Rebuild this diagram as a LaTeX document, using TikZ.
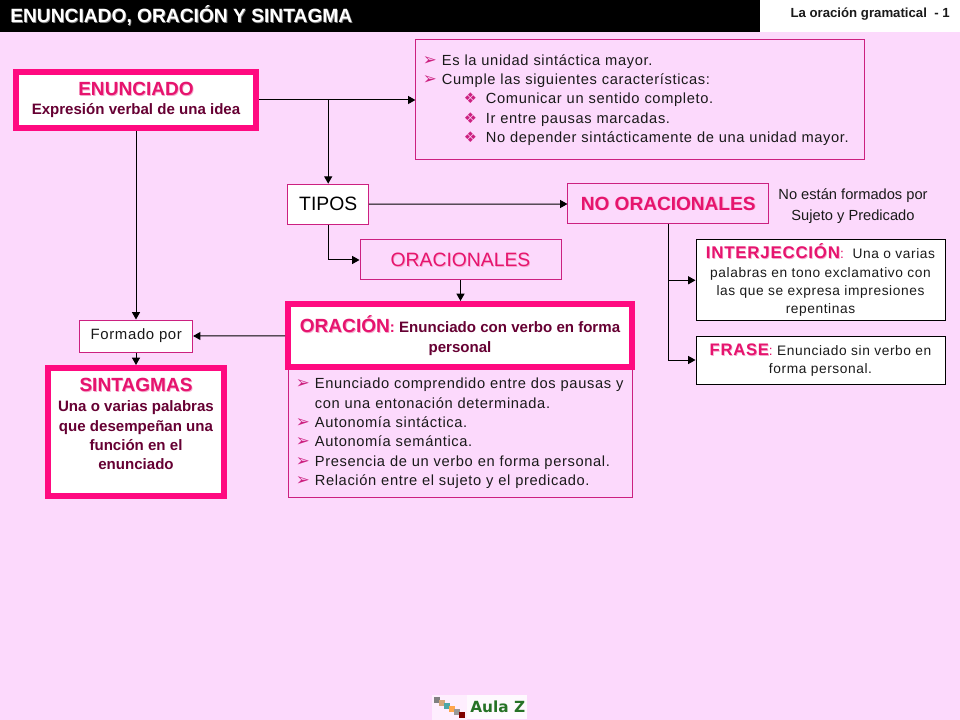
\documentclass[tikz,border=0pt]{standalone}
\usepackage{fontspec}
\setmainfont{Liberation Sans}
\newfontfamily\symfont{DejaVu Sans}
\newfontfamily\esp[LetterSpace=4.3]{Liberation Sans}
\usetikzlibrary{positioning}
\usetikzlibrary{arrows.meta}
\definecolor{fondo}{HTML}{FCD9FC}
\definecolor{rosa}{HTML}{FF0A80}
\definecolor{borde}{HTML}{CC2080}
\definecolor{titulo}{HTML}{E6146E}
\definecolor{vino}{HTML}{660033}
\definecolor{texto}{HTML}{1A1A1A}
\definecolor{sombra}{HTML}{F5A8CC}
\newcommand{\somb}[3]{\leavevmode\rlap{\hspace{.6pt}\raisebox{-.6pt}{\textcolor{#2}{#3}}}\textcolor{#1}{#3}}
\newcommand{\rosado}[1]{\somb{titulo}{sombra}{#1}}
\newcommand{\cabeza}{\fontsize{14.3}{16}\bfseries\selectfont}
\newcommand{\flecha}[1]{\makebox[14.25pt][l]{\smash{\symfont\fontsize{12.5}{12}\bfseries\selectfont\textcolor{borde}{➢}}}#1}
\newcommand{\rombo}[1]{\hspace*{30.75pt}\makebox[16.5pt][l]{\symfont\textcolor{borde}{❖}}#1}
\tikzset{
    fino/.style={draw=borde, line width=.75pt, inner sep=0pt, text=texto},
    grueso/.style={draw=rosa, fill=white, line width=4.5pt, inner sep=0pt, align=center, text=vino},
    negro/.style={draw=black, fill=white, line width=.75pt, inner sep=0pt, align=center, text=texto,
        font=\esp\fontsize{10.3}{13.7}\selectfont},
    flechita/.style={-{Triangle[length=5.5pt,width=6pt]}, line width=.75pt, black},
    lista/.style={font=\esp\fontsize{11}{14.5}\selectfont, align=left},
    cabeza/.style={font=\cabeza, text=titulo},
    cuerpo/.style={font=\fontsize{11.3}{14.5}\bfseries\selectfont}
}
\begin{document}
\begin{tikzpicture}[x=.75pt,y=-.75pt]
    \useasboundingbox (0,0) rectangle (960,720);
    \fill[fondo] (0,0) rectangle (960,720);
    \fill[black] (0,0) rectangle (760,32);
    \fill[white] (760,0) rectangle (960,32);
    \node[anchor=west, inner sep=0pt, font=\fontsize{14.4}{16}\bfseries\selectfont] (titular) at (10,16)
        {\somb{white}{gray}{ENUNCIADO, ORACIÓN Y SINTAGMA}};
    \node[anchor=east, inner sep=0pt, font=\fontsize{9.9}{11}\bfseries\selectfont, text=texto] (seccion) at (950,14)
        {La oración gramatical\ \ - 1};
    % cajas
    \node[grueso, minimum width=180pt, minimum height=42pt, cuerpo] (enunciado) at (136,100)
        {{\cabeza\rosado{ENUNCIADO}}\\Expresión verbal de una idea};
    \node[fino, minimum height=90pt, text width=326.25pt, inner xsep=5.25pt, lista] (rasgos) at (640.4,100)
        {\flecha{Es la unidad sintáctica mayor.}\\
        \flecha{Cumple las siguientes características:}\\
        \rombo{Comunicar un sentido completo.}\\
        \rombo{Ir entre pausas marcadas.}\\
        \rombo{No depender sintácticamente de una unidad mayor.}\\[5pt]};
    \node[fino, fill=white, minimum width=60.4pt, minimum height=30pt, font=\fontsize{14.5}{16}\selectfont, text=black] (tipos) at (328.2,204.2) {TIPOS};
    \node[fino, minimum width=150.4pt, minimum height=30pt, cabeza] (nooracionales) at (668.2,204) {\rosado{NO ORACIONALES}};
    \node[inner sep=0pt, align=center, text=texto, font=\fontsize{11}{15.75}\selectfont] (nota) at (853,206)
        {No están formados por\\Sujeto y Predicado};
    \node[fino, minimum width=150.75pt, minimum height=30pt, font=\fontsize{14.5}{16}\selectfont] (oracionales) at (460.5,260) {\rosado{ORACIONALES}};
    \node[fino, minimum height=96pt, text width=246.5pt, inner xsep=5.6pt, lista] (rasgosoracion) at (460.2,433)
        {\flecha{Enunciado comprendido entre dos pausas y}\\[.5pt]
        \hspace*{14.25pt}con una entonación determinada.\\
        \flecha{Autonomía sintáctica.}\\
        \flecha{Autonomía semántica.}\\
        \flecha{Presencia de un verbo en forma personal.}\\
        \flecha{Relación entre el sujeto y el predicado.}};
    \node[grueso, minimum width=258pt, minimum height=47.6pt, cuerpo] (oracion) at (460,335.75)
        {{\cabeza\rosado{ORACIÓN}}\textcolor{titulo}{:} Enunciado con verbo en forma\\personal};
    \node[fino, fill=white, minimum width=84.5pt, minimum height=24pt, font=\esp\fontsize{11.2}{12}\selectfont] (formado) at (136.3,336) {Formado por};
    \node[grueso, minimum width=132pt, minimum height=96pt, cuerpo] (sintagmas) at (136,432)
        {{\cabeza\rosado{SINTAGMAS}}\\[1pt]Una o varias palabras\\que desempeñan una\\función en el\\enunciado\\[-2.5pt]};
    \node[negro, minimum width=186.75pt, minimum height=60.5pt] (interjeccion) at (820.5,280.3)
        {{\fontsize{12.7}{13}\bfseries\selectfont\rosado{INTERJECCIÓN}}\textcolor{titulo}{:}\ \ Una o varias\\palabras en tono exclamativo con\\las que se expresa impresiones\\repentinas};
    \node[negro, minimum width=186.75pt, minimum height=36pt] (frase) at (820.5,360)
        {{\fontsize{12.5}{13}\bfseries\selectfont\rosado{FRASE}}\textcolor{titulo}{:} Enunciado sin verbo en\\forma personal.};
    % conectores
    \draw[flechita] (enunciado.east) -- (rasgos.west);
    \draw[flechita] (enunciado.east -| tipos.north) -- (tipos.north);
    \draw[flechita] (enunciado.south) -- (enunciado.south |- formado.north);
    \draw[flechita] (enunciado.south |- formado.south) -- (sintagmas.north);
    \draw[flechita] (oracion.west) -- (formado.east);
    \draw[flechita] (tipos.east) -- (nooracionales.west);
    \draw[flechita] (tipos.south) |- (oracionales.west);
    \draw[flechita] (oracionales.south) -- (oracionales.south |- oracion.north);
    \draw[flechita] (nooracionales.south) |- (interjeccion.west);
    \draw[flechita] (nooracionales.south) |- (frase.west);
    % logo
    \fill[white!55!fondo] (432,695) rectangle (467,720);
    \fill[white!85!fondo] (467,695) rectangle (527,719);
    \foreach \px/\py/\colorlogo in {434/697/gray, 439/700/brown!70, 444/703/teal!70, 449/706/orange!70, 454/709/gray!80, 459/712/red!50!black}
        \fill[\colorlogo] (\px,\py) rectangle ++(6,6);
    \node[anchor=west, inner sep=0pt, text=green!35!black!85, font=\symfont\fontsize{11.5}{12}\bfseries\selectfont] (logo) at (470,707) {Aula Z};
\end{tikzpicture}
\end{document}
